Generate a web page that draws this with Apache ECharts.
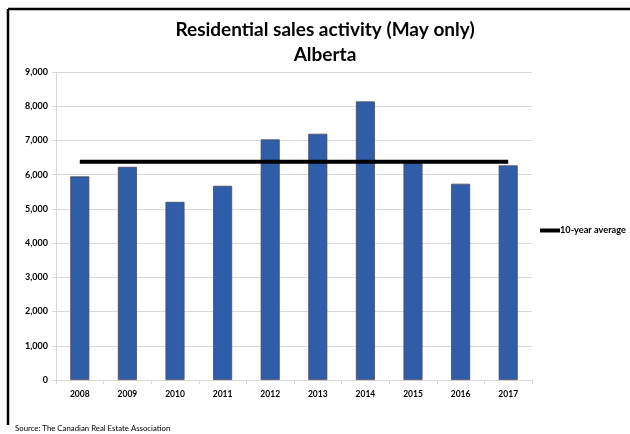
<!DOCTYPE html>
<html><head><meta charset="utf-8">
<script src="https://cdn.jsdelivr.net/npm/echarts@6/dist/echarts.min.js"></script>
<style>html,body{margin:0;padding:0;background:#fff}#c{width:630px;height:434px}</style>
</head><body><div id="c"></div>
<script>
const years = ['2008','2009','2010','2011','2012','2013','2014','2015','2016','2017'];
const sales = [5950, 6230, 5205, 5675, 7030, 7195, 8140, 6340, 5735, 6270];
const tenYearAverage = [6380, 6380, 6380, 6380, 6380, 6380, 6380, 6380, 6380, 6380];
const yTicks = [0, 1000, 2000, 3000, 4000, 5000, 6000, 7000, 8000, 9000];

const F = 'Lato, "Noto Sans", sans-serif';
const chart = echarts.init(document.getElementById('c'), null, {renderer:'canvas'});
chart.setOption({
  animation:false,
  backgroundColor:'#fff',
  title:{
    text:'Residential sales activity (May only)\nAlberta',
    left:320, textAlign:'center', top:12,
    textStyle:{fontFamily:F, fontWeight:'bold', fontSize:19, color:'#000', lineHeight:25}
  },
  legend:{
    data:[{name:'10-year average', icon:'rect'}],
    orient:'vertical', left:535, top:221,
    itemWidth:20, itemHeight:4, itemGap:4,
    textStyle:{fontFamily:F, fontWeight:'bold', fontSize:9.2, color:'#000', padding:[0,0,0,-5]}
  },
  grid:{left:56, right:98, top:72, bottom:54},
  xAxis:{
    type:'category', data:years,
    axisLine:{lineStyle:{color:'#d9d9d9'}},
    axisTick:{show:true, length:4, lineStyle:{color:'#d9d9d9'}},
    axisLabel:{fontFamily:F, fontWeight:'bold', fontSize:8.5, color:'#000', margin:10}
  },
  yAxis:{
    type:'value', min:yTicks[0], max:yTicks[yTicks.length-1], interval:1000,
    axisLine:{show:true, lineStyle:{color:'#d9d9d9'}},
    axisTick:{show:true, length:4, lineStyle:{color:'#d9d9d9'}},
    splitLine:{lineStyle:{color:'#d9d9d9'}},
    axisLabel:{fontFamily:F, fontWeight:'bold', fontSize:9, color:'#000', margin:8,
      formatter:v=>v.toLocaleString('en-US')}
  },
  series:[
    {name:'Sales', type:'bar', data:sales, barWidth:'40%',
     itemStyle:{color:'#305DA8', borderColor:'#4a4a5a', borderWidth:0.8}},
    {name:'10-year average', type:'line', data:tenYearAverage, symbol:'none',
     lineStyle:{color:'#000', width:4}, itemStyle:{color:'#000'}}
  ],
  graphic:[
    {type:'line', shape:{x1:8, y1:9, x2:630, y2:9}, style:{stroke:'#000', lineWidth:2.5}},
    {type:'line', shape:{x1:8, y1:9, x2:8, y2:425}, style:{stroke:'#000', lineWidth:2.5}},
    {type:'text', left:15, top:424, style:{text:'Source: The Canadian Real Estate Association',
      font:'7.8px Lato, "Noto Sans", sans-serif', fill:'#000'}}
  ]
});
</script></body></html>
